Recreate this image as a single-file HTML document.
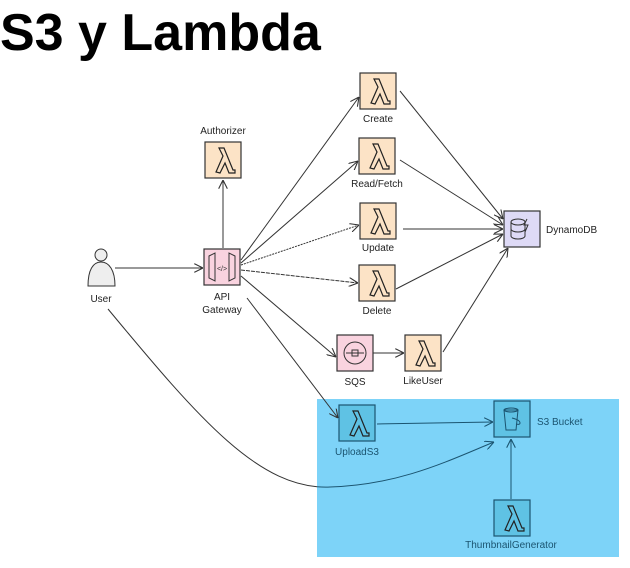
<!DOCTYPE html>
<html><head><meta charset="utf-8"><style>
html,body{margin:0;padding:0;background:#fff;width:630px;height:568px;overflow:hidden}
svg{display:block}
.t{font-family:"Liberation Sans",sans-serif;font-size:10px;fill:#222}
.tb{font-family:"Liberation Sans",sans-serif;font-size:10px;fill:#1b5470}
</style></head><body>
<svg width="630" height="568" viewBox="0 0 630 568" xmlns="http://www.w3.org/2000/svg">
<defs>
<marker id="a" viewBox="0 0 10 10" refX="10" refY="5" markerWidth="9" markerHeight="9" orient="auto-start-reverse" markerUnits="userSpaceOnUse"><path d="M0,0 L10,5 L0,10" fill="none" stroke="#333" stroke-width="1.2"/></marker>
<marker id="ab" viewBox="0 0 10 10" refX="10" refY="5" markerWidth="9" markerHeight="9" orient="auto" markerUnits="userSpaceOnUse"><path d="M0,0 L10,5 L0,10" fill="none" stroke="#1b5470" stroke-width="1.2"/></marker>
<clipPath id="cl"><rect x="0" y="0" width="317" height="568"/></clipPath>
<clipPath id="cr"><rect x="317" y="0" width="313" height="568"/></clipPath>
<g id="lam"><path d="M-7,12 L0,-4 L-4,-12 L1,-12 L10,10 L12,10 L12,13 L6,13 L2,3 L-3,13 Z" fill="none" stroke="#222" stroke-width="1.2"/></g>
</defs>
<text x="0" y="50" font-family="'Liberation Sans',sans-serif" font-weight="bold" font-size="52" fill="#000">S3 y Lambda</text>
<rect x="317" y="399" width="302" height="158" fill="#7dd3f8"/>

<g stroke="#333" stroke-width="1" fill="none">
<line x1="115" y1="268" x2="203" y2="268" marker-end="url(#a)"/>
<line x1="223" y1="248" x2="223" y2="180" marker-end="url(#a)"/>
<line x1="241" y1="260" x2="359" y2="97" marker-end="url(#a)"/>
<line x1="241" y1="263" x2="358" y2="161" marker-end="url(#a)"/>
<line x1="241" y1="265" x2="359" y2="225" marker-end="url(#a)" stroke-dasharray="2,1"/>
<line x1="241" y1="270" x2="358" y2="283" marker-end="url(#a)" stroke-dasharray="4,1"/>
<line x1="241" y1="276" x2="336" y2="357" marker-end="url(#a)"/>
<line x1="247" y1="298" x2="338" y2="418" marker-end="url(#a)"/>
<line x1="373" y1="353" x2="404" y2="353" marker-end="url(#a)"/>
<line x1="400" y1="91" x2="503" y2="219" marker-end="url(#a)"/>
<line x1="400" y1="160" x2="503" y2="225" marker-end="url(#a)"/>
<line x1="403" y1="229" x2="503" y2="229" marker-end="url(#a)"/>
<line x1="396" y1="289" x2="503" y2="234" marker-end="url(#a)"/>
<line x1="443" y1="352" x2="508" y2="248" marker-end="url(#a)"/>
<path d="M108,309 C200,420 260,490 330,487 C400,485 450,460 494,442" clip-path="url(#cl)"/>
</g>
<g stroke="#1b5470" stroke-width="1" fill="none">
<path d="M108,309 C200,420 260,490 330,487 C400,485 450,460 494,442" marker-end="url(#ab)" clip-path="url(#cr)"/>
<line x1="377" y1="424" x2="493" y2="422" marker-end="url(#ab)"/>
<line x1="511" y1="499" x2="511" y2="439" marker-end="url(#ab)"/>
</g>

<circle cx="101" cy="255" r="6" fill="#eee" stroke="#333"/>
<path d="M88,286 C88,270 93,262 101,262 C109,262 115,270 115,286 Z" fill="#eee" stroke="#333"/>
<text class="t" x="101" y="302" text-anchor="middle">User</text>

<g fill="#fce3c6" stroke="#333" stroke-width="1.2">
<rect x="360" y="73" width="36" height="36"/>
<rect x="205" y="142" width="36" height="36"/>
<rect x="359" y="138" width="36" height="36"/>
<rect x="360" y="203" width="36" height="36"/>
<rect x="359" y="265" width="36" height="36"/>
<rect x="405" y="335" width="36" height="36"/>
</g>
<use href="#lam" x="378" y="91"/><use href="#lam" x="223" y="160"/><use href="#lam" x="377" y="156"/>
<use href="#lam" x="378" y="221"/><use href="#lam" x="377" y="283"/><use href="#lam" x="423" y="353"/>
<text class="t" x="378" y="122" text-anchor="middle">Create</text>
<text class="t" x="223" y="134" text-anchor="middle">Authorizer</text>
<text class="t" x="377" y="187" text-anchor="middle">Read/Fetch</text>
<text class="t" x="378" y="251" text-anchor="middle">Update</text>
<text class="t" x="377" y="314" text-anchor="middle">Delete</text>
<text class="t" x="423" y="384" text-anchor="middle">LikeUser</text>

<rect x="204" y="249" width="36" height="36" fill="#f9d3df" stroke="#333" stroke-width="1.2"/>
<path d="M209,256 L215,253 L215,281 L209,278 Z M235,256 L229,253 L229,281 L235,278 Z" fill="none" stroke="#333"/>
<text x="222" y="271" font-size="7" text-anchor="middle" font-family="Liberation Sans" fill="#333">&lt;/&gt;</text>
<text class="t" x="222" y="300" text-anchor="middle">API</text>
<text class="t" x="222" y="313" text-anchor="middle">Gateway</text>

<rect x="337" y="335" width="36" height="36" fill="#f9d3df" stroke="#333" stroke-width="1.2"/>
<circle cx="355" cy="353" r="11" fill="none" stroke="#333"/>
<path d="M346,353 h18 M352,350 h6 v6 h-6 z" fill="none" stroke="#333"/>
<text class="t" x="355" y="385" text-anchor="middle">SQS</text>

<rect x="504" y="211" width="36" height="36" fill="#dedaf6" stroke="#333" stroke-width="1.2"/>
<ellipse cx="518" cy="222" rx="7" ry="3" fill="none" stroke="#333"/>
<path d="M511,222 v14 a7,3 0 0 0 14,0 v-14 M511,229 a7,3 0 0 0 14,0" fill="none" stroke="#333"/>
<path d="M527,219 l-3,6 h4 l-3,7" fill="none" stroke="#333"/>
<text class="t" x="546" y="233">DynamoDB</text>

<g fill="#5fc2e4" stroke="#1b5470" stroke-width="1.2">
<rect x="339" y="405" width="36" height="36"/>
<rect x="494" y="401" width="36" height="36"/>
<rect x="494" y="500" width="36" height="36"/>
</g>
<g stroke="#1b5470"><use href="#lam" x="357" y="423"/><use href="#lam" x="512" y="518"/></g>
<path d="M504,410 h14 l-2,20 h-10 z" fill="none" stroke="#1b5470"/>
<ellipse cx="511" cy="410" rx="7" ry="2" fill="none" stroke="#1b5470"/>
<path d="M512,418 q8,2 8,5 q0,2 -4,1" fill="none" stroke="#1b5470"/>
<text class="tb" x="357" y="455" text-anchor="middle">UploadS3</text>
<text class="tb" x="537" y="425">S3 Bucket</text>
<text class="tb" x="511" y="548" text-anchor="middle">ThumbnailGenerator</text>
</svg>
</body></html>
